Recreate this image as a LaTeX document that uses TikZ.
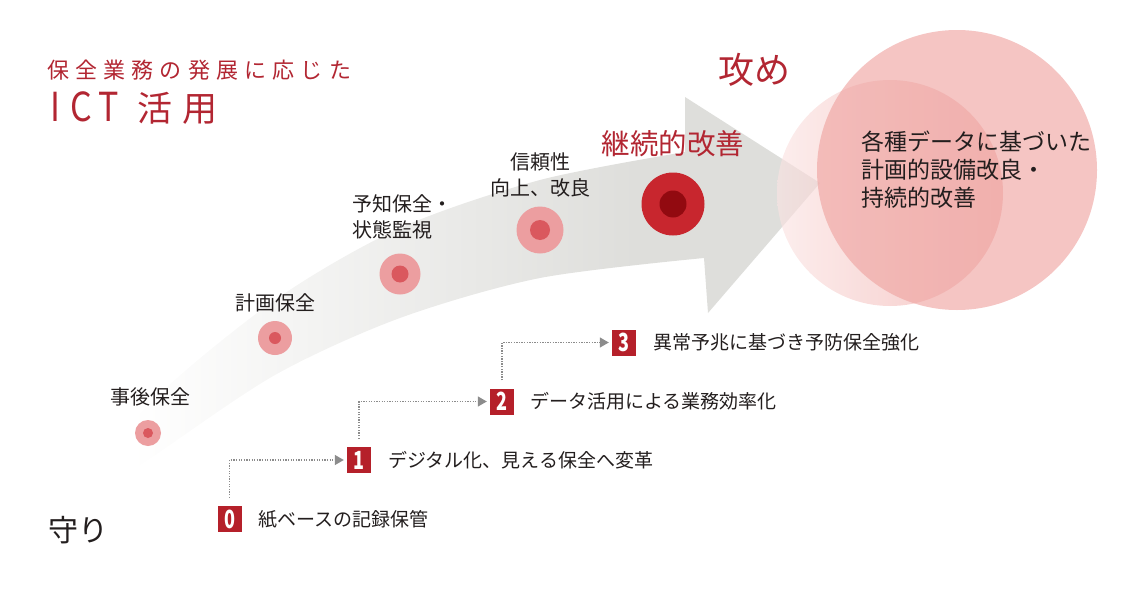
\documentclass[tikz,border=0pt]{standalone}
\usepackage{fontspec}
\usepackage{graphicx}
\setmainfont{Noto Sans CJK JP}
\usetikzlibrary{arrows.meta}
\definecolor{titlered}{RGB}{178,38,50}
\definecolor{boxred}{RGB}{181,32,42}
\definecolor{ringout}{RGB}{236,158,160}
\definecolor{ringin}{RGB}{218,88,94}
\definecolor{bigout}{RGB}{200,38,46}
\definecolor{bigin}{RGB}{146,10,16}
\definecolor{circpink}{RGB}{239,164,161}
\definecolor{arrowgray}{RGB}{222,222,219}
\definecolor{txt}{RGB}{35,30,30}
\definecolor{dotgray}{RGB}{140,140,140}
\pgfdeclarehorizontalshading{arrowshade}{100bp}{color(0bp)=(white); color(25bp)=(white); color(30bp)=(white); color(63bp)=(arrowgray); color(100bp)=(arrowgray)}
\begin{document}
\begin{tikzpicture}[x=1pt,y=-1pt,
  lbl/.style={font=\fontsize{20}{26}\selectfont, text=txt, inner sep=0},
  steplbl/.style={font=\fontsize{19}{22}\selectfont, text=txt, anchor=west, inner sep=0},
  numbox/.style={fill=boxred, text=white, minimum width=24pt, minimum height=26pt, inner sep=0, font=\bfseries\fontsize{25}{25}\selectfont},
  flow/.style={dotgray, line width=1.3pt, dash pattern=on 1.3pt off 1.3pt, -{Triangle[width=10pt,length=9pt]}},
  ringo/.style={circle, fill=ringout, inner sep=0},
  ringi/.style={circle, fill=ringin, inner sep=0}]
\useasboundingbox (0,0) rectangle (1130,605);
% big arrow
\path[shading=arrowshade]
  plot[smooth] coordinates {(55,522) (148,405) (275,300) (400,228) (540,180) (685,152)}
  -- (685,97) -- (820,183) -- (708,313) -- (704,258)
  -- plot[smooth] coordinates {(704,258) (540,278) (400,318) (275,375) (148,460) (55,522)} -- cycle;
% circles
\shade[left color=circpink!30, right color=circpink, opacity=0.64] (890,193) circle[radius=113];
\fill[circpink, opacity=0.64] (957,170) circle[radius=140];
\node[font=\fontsize{23}{28}\selectfont, text=txt, align=left, anchor=west, inner sep=0] (goal) at (861,170)
  {各種データに基づいた\\計画的設備改良・\\持続的改善};
% title
\node[anchor=west, inner sep=0, text=titlered, font=\fontsize{22}{22}\selectfont] (title1) at (47,70)
  {保\kern6.2pt 全\kern6.2pt 業\kern6.2pt 務\kern6.2pt の\kern6.2pt 発\kern6.2pt 展\kern6.2pt に\kern6.2pt 応\kern6.2pt じ\kern6.2pt た};
\node[anchor=west, inner sep=0, text=titlered, font=\fontsize{35}{35}\selectfont] (title2) at (50,108)
  {\scalebox{0.85}[1]{\fontsize{40}{40}\selectfont I\kern12pt C\kern8pt T}\kern18pt 活\kern10pt 用};
\node[inner sep=0, text=titlered, font=\fontsize{36}{36}\selectfont] (seme) at (754,70) {攻め};
\node[inner sep=0, text=txt, font=\fontsize{30}{30}\selectfont] (mamori) at (78,530) {守り};
% dots
\node[ringo, minimum size=26pt] (d0) at (148,433) {};
\node[ringi, minimum size=10pt] (d0c) at (d0) {};
\node[ringo, minimum size=34pt] (d1) at (275,338) {};
\node[ringi, minimum size=12pt] (d1c) at (d1) {};
\node[ringo, minimum size=41pt] (d2) at (400,274) {};
\node[ringi, minimum size=17pt] (d2c) at (d2) {};
\node[ringo, minimum size=47pt] (d3) at (540,230) {};
\node[ringi, minimum size=20pt] (d3c) at (d3) {};
\node[circle, fill=bigout, inner sep=0, minimum size=63pt] (d4) at (673,204) {};
\node[circle, fill=bigin, inner sep=0, minimum size=27pt] (d4c) at (d4) {};
% dot labels
\node[lbl] (l0) at (150,397) {事後保全};
\node[lbl] (l1) at (275,303) {計画保全};
\node[lbl, align=left, anchor=west] (l2) at (352,217) {予知保全・\\状態監視};
\node[lbl, align=center] (l3) at (540,175) {信頼性\\向上、改良};
\node[inner sep=0, text=titlered, font=\fontsize{28.5}{28.5}\selectfont] (l4) at (673,144) {継続的改善};
% steps
\node[numbox] (b0) at (229.5,519) {\scalebox{0.72}[1]{0}};
\node[numbox] (b1) at (359,460) {\scalebox{0.72}[1]{1}};
\node[numbox] (b2) at (502,401.5) {\scalebox{0.72}[1]{2}};
\node[numbox] (b3) at (624,342.5) {\scalebox{0.72}[1]{3}};
\node[steplbl] (t0) at (258,519) {紙ベースの記録保管};
\node[steplbl] (t1) at (388,460) {デジタル化、見える保全へ変革};
\node[steplbl] (t2) at (530,401.5) {データ活用による業務効率化};
\node[steplbl] (t3) at (653,342.5) {異常予兆に基づき予防保全強化};
\draw[flow] ([yshift=8pt]b0.north) |- ([xshift=-3pt]b1.west);
\draw[flow] ([yshift=8pt]b1.north) |- ([xshift=-3pt]b2.west);
\draw[flow] ([yshift=8pt]b2.north) |- ([xshift=-3pt]b3.west);
\end{tikzpicture}
\end{document}
